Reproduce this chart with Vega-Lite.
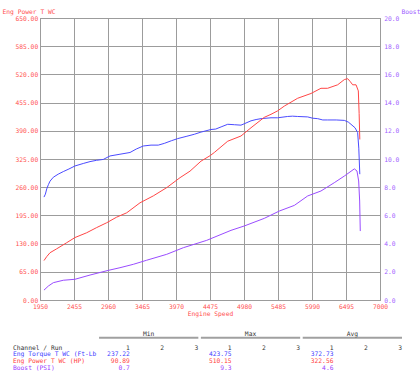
{
  "$schema": "https://vega.github.io/schema/vega-lite/v6.json",
  "background": "white",
  "padding": {"left": 1, "top": 7, "right": 0, "bottom": 0},
  "bounds": "flush",
  "spacing": 31,
  "resolve": {"scale": {"color": "independent"}},
  "datasets": {
    "eng": [
      {"series": "Torque", "rpm": 2009, "value": 237.2},
      {"series": "Torque", "rpm": 2030, "value": 244},
      {"series": "Torque", "rpm": 2050, "value": 256},
      {"series": "Torque", "rpm": 2075, "value": 266},
      {"series": "Torque", "rpm": 2099, "value": 274},
      {"series": "Torque", "rpm": 2148, "value": 283},
      {"series": "Torque", "rpm": 2220, "value": 290},
      {"series": "Torque", "rpm": 2296, "value": 296},
      {"series": "Torque", "rpm": 2380, "value": 302},
      {"series": "Torque", "rpm": 2470, "value": 309},
      {"series": "Torque", "rpm": 2600, "value": 315},
      {"series": "Torque", "rpm": 2693, "value": 319},
      {"series": "Torque", "rpm": 2790, "value": 322},
      {"series": "Torque", "rpm": 2890, "value": 324},
      {"series": "Torque", "rpm": 2990, "value": 332},
      {"series": "Torque", "rpm": 3138, "value": 336},
      {"series": "Torque", "rpm": 3287, "value": 340},
      {"series": "Torque", "rpm": 3380, "value": 348},
      {"series": "Torque", "rpm": 3484, "value": 355},
      {"series": "Torque", "rpm": 3599, "value": 357},
      {"series": "Torque", "rpm": 3707, "value": 357},
      {"series": "Torque", "rpm": 3796, "value": 361},
      {"series": "Torque", "rpm": 3900, "value": 367},
      {"series": "Torque", "rpm": 3995, "value": 372},
      {"series": "Torque", "rpm": 4120, "value": 377},
      {"series": "Torque", "rpm": 4242, "value": 382},
      {"series": "Torque", "rpm": 4341, "value": 387},
      {"series": "Torque", "rpm": 4490, "value": 393},
      {"series": "Torque", "rpm": 4560, "value": 394},
      {"series": "Torque", "rpm": 4640, "value": 399},
      {"series": "Torque", "rpm": 4738, "value": 405},
      {"series": "Torque", "rpm": 4840, "value": 404},
      {"series": "Torque", "rpm": 4935, "value": 403},
      {"series": "Torque", "rpm": 5010, "value": 408},
      {"series": "Torque", "rpm": 5084, "value": 413},
      {"series": "Torque", "rpm": 5160, "value": 416},
      {"series": "Torque", "rpm": 5233, "value": 418},
      {"series": "Torque", "rpm": 5381, "value": 420},
      {"series": "Torque", "rpm": 5480, "value": 420},
      {"series": "Torque", "rpm": 5628, "value": 423},
      {"series": "Torque", "rpm": 5700, "value": 423.75},
      {"series": "Torque", "rpm": 5777, "value": 423},
      {"series": "Torque", "rpm": 5926, "value": 422},
      {"series": "Torque", "rpm": 6000, "value": 419},
      {"series": "Torque", "rpm": 6074, "value": 418},
      {"series": "Torque", "rpm": 6150, "value": 415},
      {"series": "Torque", "rpm": 6222, "value": 415},
      {"series": "Torque", "rpm": 6350, "value": 415},
      {"series": "Torque", "rpm": 6470, "value": 414},
      {"series": "Torque", "rpm": 6530, "value": 410},
      {"series": "Torque", "rpm": 6569, "value": 405},
      {"series": "Torque", "rpm": 6629, "value": 397},
      {"series": "Torque", "rpm": 6668, "value": 386},
      {"series": "Torque", "rpm": 6685, "value": 350},
      {"series": "Torque", "rpm": 6700, "value": 290},
      {"series": "Power", "rpm": 2009, "value": 90.9},
      {"series": "Power", "rpm": 2050, "value": 100},
      {"series": "Power", "rpm": 2099, "value": 109},
      {"series": "Power", "rpm": 2198, "value": 118},
      {"series": "Power", "rpm": 2346, "value": 132},
      {"series": "Power", "rpm": 2470, "value": 144},
      {"series": "Power", "rpm": 2643, "value": 155},
      {"series": "Power", "rpm": 2792, "value": 167},
      {"series": "Power", "rpm": 2940, "value": 178},
      {"series": "Power", "rpm": 3089, "value": 191},
      {"series": "Power", "rpm": 3238, "value": 201},
      {"series": "Power", "rpm": 3435, "value": 224},
      {"series": "Power", "rpm": 3633, "value": 240},
      {"series": "Power", "rpm": 3832, "value": 259},
      {"series": "Power", "rpm": 4030, "value": 282},
      {"series": "Power", "rpm": 4178, "value": 297},
      {"series": "Power", "rpm": 4341, "value": 320},
      {"series": "Power", "rpm": 4480, "value": 333},
      {"series": "Power", "rpm": 4539, "value": 340},
      {"series": "Power", "rpm": 4738, "value": 366},
      {"series": "Power", "rpm": 4935, "value": 378},
      {"series": "Power", "rpm": 5084, "value": 397},
      {"series": "Power", "rpm": 5281, "value": 421},
      {"series": "Power", "rpm": 5381, "value": 428},
      {"series": "Power", "rpm": 5480, "value": 436},
      {"series": "Power", "rpm": 5579, "value": 447},
      {"series": "Power", "rpm": 5777, "value": 465},
      {"series": "Power", "rpm": 5975, "value": 476},
      {"series": "Power", "rpm": 6123, "value": 488},
      {"series": "Power", "rpm": 6222, "value": 488},
      {"series": "Power", "rpm": 6371, "value": 496},
      {"series": "Power", "rpm": 6470, "value": 508},
      {"series": "Power", "rpm": 6520, "value": 510.15},
      {"series": "Power", "rpm": 6560, "value": 503},
      {"series": "Power", "rpm": 6594, "value": 496},
      {"series": "Power", "rpm": 6644, "value": 496},
      {"series": "Power", "rpm": 6678, "value": 482},
      {"series": "Power", "rpm": 6690, "value": 430},
      {"series": "Power", "rpm": 6700, "value": 370}
    ],
    "boost": [
      {"rpm": 2009, "psi": 0.7},
      {"rpm": 2074, "psi": 0.99},
      {"rpm": 2148, "psi": 1.23},
      {"rpm": 2296, "psi": 1.4},
      {"rpm": 2470, "psi": 1.47},
      {"rpm": 2693, "psi": 1.77},
      {"rpm": 2964, "psi": 2.1},
      {"rpm": 3138, "psi": 2.29},
      {"rpm": 3336, "psi": 2.53},
      {"rpm": 3534, "psi": 2.82},
      {"rpm": 3832, "psi": 3.24},
      {"rpm": 4079, "psi": 3.71},
      {"rpm": 4426, "psi": 4.23},
      {"rpm": 4787, "psi": 4.94},
      {"rpm": 4984, "psi": 5.25},
      {"rpm": 5281, "psi": 5.79},
      {"rpm": 5505, "psi": 6.31},
      {"rpm": 5728, "psi": 6.71},
      {"rpm": 5926, "psi": 7.38},
      {"rpm": 6123, "psi": 7.73},
      {"rpm": 6321, "psi": 8.32},
      {"rpm": 6470, "psi": 8.79},
      {"rpm": 6619, "psi": 9.3},
      {"rpm": 6658, "psi": 9.15},
      {"rpm": 6683, "psi": 8.44},
      {"rpm": 6698, "psi": 7.02},
      {"rpm": 6707, "psi": 4.89}
    ],
    "headers": [
      {"stat": "Min", "row": "Header"},
      {"stat": "Max", "row": "Header"},
      {"stat": "Avg", "row": "Header"}
    ],
    "labels": [
      {"column": "Channel", "row": "Channel / Run"},
      {"column": "Channel", "row": "Eng Torque T WC (Ft-Lb"},
      {"column": "Channel", "row": "Eng Power T WC (HP)"},
      {"column": "Channel", "row": "Boost (PSI)"}
    ],
    "cells": [
      {"row": "Channel / Run", "stat": "Min", "run": "1", "text": "1"},
      {"row": "Channel / Run", "stat": "Min", "run": "2", "text": "2"},
      {"row": "Channel / Run", "stat": "Min", "run": "3", "text": "3"},
      {"row": "Channel / Run", "stat": "Max", "run": "1", "text": "1"},
      {"row": "Channel / Run", "stat": "Max", "run": "2", "text": "2"},
      {"row": "Channel / Run", "stat": "Max", "run": "3", "text": "3"},
      {"row": "Channel / Run", "stat": "Avg", "run": "1", "text": "1"},
      {"row": "Channel / Run", "stat": "Avg", "run": "2", "text": "2"},
      {"row": "Channel / Run", "stat": "Avg", "run": "3", "text": "3"},
      {"row": "Eng Torque T WC (Ft-Lb", "stat": "Min", "run": "1", "text": "237.22"},
      {"row": "Eng Torque T WC (Ft-Lb", "stat": "Max", "run": "1", "text": "423.75"},
      {"row": "Eng Torque T WC (Ft-Lb", "stat": "Avg", "run": "1", "text": "372.73"},
      {"row": "Eng Power T WC (HP)", "stat": "Min", "run": "1", "text": "90.89"},
      {"row": "Eng Power T WC (HP)", "stat": "Max", "run": "1", "text": "510.15"},
      {"row": "Eng Power T WC (HP)", "stat": "Avg", "run": "1", "text": "322.56"},
      {"row": "Boost (PSI)", "stat": "Min", "run": "1", "text": "0.7"},
      {"row": "Boost (PSI)", "stat": "Max", "run": "1", "text": "9.3"},
      {"row": "Boost (PSI)", "stat": "Avg", "run": "1", "text": "4.6"}
    ]
  },
  "vconcat": [
    {
      "width": 340,
      "height": 282,
      "encoding": {
        "x": {
          "field": "rpm", "type": "quantitative", "title": "Engine Speed",
          "scale": {"domain": [1950, 7000], "nice": false, "zero": false},
          "axis": {
            "values": [1950, 2455, 2960, 3465, 3970, 4475, 4980, 5485, 5990, 6495, 7000],
            "format": "d", "labelFlush": false, "labelOverlap": false, "labelPadding": 3.5, "titlePadding": 1,
            "labelColor": "#ff5050", "titleColor": "#ff5050"
          }
        }
      },
      "layer": [
        {
          "data": {"name": "eng"},
          "mark": {"type": "line", "strokeWidth": 1, "interpolate": "linear"},
          "encoding": {
            "y": {
              "field": "value", "type": "quantitative", "title": "Eng Power T WC",
              "scale": {"domain": [0, 650], "nice": false},
              "axis": {
                "values": [0, 65, 130, 195, 260, 325, 390, 455, 520, 585, 650],
                "format": ".2f", "labelFlush": false, "labelOverlap": false, "labelPadding": 2.3,
                "titleAngle": 0, "titleAlign": "left", "titleBaseline": "middle",
                "titleX": -38, "titleY": -7,
                "labelColor": "#ff5050", "titleColor": "#ff5050"
              }
            },
            "color": {
              "field": "series", "type": "nominal",
              "scale": {"domain": ["Torque", "Power"], "range": ["#4b4bff", "#ff4646"]},
              "legend": null
            }
          }
        },
        {
          "data": {"name": "boost"},
          "mark": {"type": "line", "strokeWidth": 1, "color": "#9a4cff"},
          "encoding": {
            "y": {
              "field": "psi", "type": "quantitative", "title": "Boost",
              "scale": {"domain": [0, 20], "nice": false},
              "axis": {
                "orient": "right", "grid": false,
                "values": [0, 2, 4, 6, 8, 10, 12, 14, 16, 18, 20],
                "format": ".1f", "labelFlush": false, "labelOverlap": false, "labelPadding": 3.7,
                "titleAngle": 0, "titleAlign": "left", "titleBaseline": "middle",
                "titleX": 21, "titleY": -7,
                "labelColor": "#a060ff", "titleColor": "#a060ff"
              }
            }
          }
        }
      ],
      "resolve": {"scale": {"y": "independent"}}
    },
    {
      "width": 362,
      "height": 40,
      "view": {"stroke": null},
      "encoding": {
        "y": {
          "field": "row", "type": "nominal",
          "scale": {
            "type": "band", "paddingInner": 0, "paddingOuter": 0,
            "domain": ["Header", " ", "Channel / Run", "Eng Torque T WC (Ft-Lb", "Eng Power T WC (HP)", "Boost (PSI)"]
          },
          "axis": null
        },
        "color": {
          "field": "row", "type": "nominal",
          "scale": {
            "domain": ["Header", "Channel / Run", "Eng Torque T WC (Ft-Lb", "Eng Power T WC (HP)", "Boost (PSI)"],
            "range": ["#333333", "#333333", "#4040ff", "#ff4040", "#9a40ff"]
          },
          "legend": null
        }
      },
      "layer": [
        {
          "data": {"name": "headers"},
          "mark": {"type": "rule", "strokeWidth": 2, "color": "#a0a0a0"},
          "encoding": {
            "x": {
              "field": "stat", "type": "nominal", "bandPosition": 0,
              "scale": {"type": "band", "domain": ["Min", "Max", "Avg"], "paddingInner": 0.025, "paddingOuter": 0.29, "align": 1},
              "axis": null
            },
            "x2": {"field": "stat", "bandPosition": 1},
            "y": {"field": "row", "type": "nominal", "bandPosition": 1},
            "color": {"value": "#a0a0a0"}
          }
        },
        {
          "data": {"name": "headers"},
          "mark": {"type": "text", "align": "center", "baseline": "middle"},
          "encoding": {
            "x": {
              "field": "stat", "type": "nominal", "bandPosition": 0.5,
              "scale": {"type": "band", "domain": ["Min", "Max", "Avg"], "paddingInner": 0.025, "paddingOuter": 0.29, "align": 1},
              "axis": null
            },
            "text": {"field": "stat"}
          }
        },
        {
          "data": {"name": "cells"},
          "transform": [{"filter": "datum.run == '1'"}],
          "mark": {"type": "text", "align": "right", "baseline": "middle"},
          "encoding": {
            "x": {
              "field": "stat", "type": "nominal", "bandPosition": 0.31,
              "scale": {"type": "band", "domain": ["Min", "Max", "Avg"], "paddingInner": 0.025, "paddingOuter": 0.29, "align": 1},
              "axis": null
            },
            "text": {"field": "text"}
          }
        },
        {
          "data": {"name": "cells"},
          "transform": [{"filter": "datum.run == '2'"}],
          "mark": {"type": "text", "align": "right", "baseline": "middle"},
          "encoding": {
            "x": {
              "field": "stat", "type": "nominal", "bandPosition": 0.655,
              "scale": {"type": "band", "domain": ["Min", "Max", "Avg"], "paddingInner": 0.025, "paddingOuter": 0.29, "align": 1},
              "axis": null
            },
            "text": {"field": "text"}
          }
        },
        {
          "data": {"name": "cells"},
          "transform": [{"filter": "datum.run == '3'"}],
          "mark": {"type": "text", "align": "right", "baseline": "middle"},
          "encoding": {
            "x": {
              "field": "stat", "type": "nominal", "bandPosition": 1,
              "scale": {"type": "band", "domain": ["Min", "Max", "Avg"], "paddingInner": 0.025, "paddingOuter": 0.29, "align": 1},
              "axis": null
            },
            "text": {"field": "text"}
          }
        },
        {
          "data": {"name": "labels"},
          "mark": {"type": "text", "align": "left", "baseline": "middle", "dx": -27},
          "encoding": {
            "x": {
              "field": "column", "type": "nominal",
              "scale": {"type": "point", "domain": ["Channel"], "padding": 0, "align": 0},
              "axis": null
            },
            "text": {"field": "row"}
          }
        }
      ],
      "resolve": {"scale": {"x": "independent"}}
    }
  ],
  "config": {
    "view": {"stroke": "#7f7f7f", "strokeWidth": 1},
    "axis": {
      "domain": false, "ticks": false, "grid": true, "labelOverlap": false,
      "gridColor": "#9c9c9c", "gridWidth": 1,
      "labelFont": "DejaVu Sans Mono", "labelFontSize": 6.3,
      "titleFont": "DejaVu Sans Mono", "titleFontSize": 6.3, "titleFontWeight": "normal"
    },
    "text": {"font": "DejaVu Sans Mono", "fontSize": 6.3}
  }
}
